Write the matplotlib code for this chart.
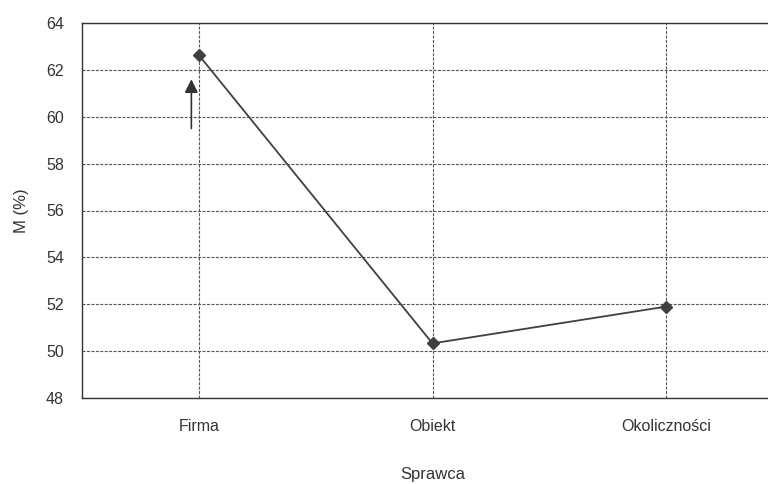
import matplotlib
matplotlib.use("Agg")
import matplotlib.pyplot as plt

categories = ["Firma", "Obiekt", "Okoliczności"]
values = [62.63, 50.33, 51.9]
y_ticks = [48, 50, 52, 54, 56, 58, 60, 62, 64]

plt.rcParams['font.family'] = ['Liberation Sans', 'DejaVu Sans']

fig = plt.figure(figsize=(7.68, 4.84), dpi=100)
W, H = 768, 484
left, right, top, bottom = 82, 783, 23, 398
ax = fig.add_axes([left / W, 1 - bottom / H, (right - left) / W, (bottom - top) / H])

x = list(range(len(categories)))
ax.plot(x, values, color="#404040", lw=1.3, marker="D", markersize=6,
        markerfacecolor="#404040", markeredgecolor="#404040", zorder=3)

ax.set_xlim(-0.5, 2.5)
ax.set_ylim(48, 64)
ax.set_yticks(y_ticks)
ax.set_xticks(x)
ax.set_xticklabels(categories)

ax.grid(True, linestyle=(0, (2.7, 1.3)), color="#555555", lw=0.8)
ax.set_axisbelow(True)
for s in ["top", "left", "bottom", "right"]:
    ax.spines[s].set_color("#333333")
    ax.spines[s].set_linewidth(1.0)

ax.tick_params(axis="both", length=0, labelsize=11.5, colors="#333333")
ax.tick_params(axis="y", pad=13)
ax.tick_params(axis="x", pad=15)

ax.set_xlabel("Sprawca", fontsize=12, color="#333333", labelpad=24)
ax.set_ylabel("M (%)", fontsize=12, color="#333333", labelpad=12)

ax.annotate("", xy=(-0.032, 61.6), xytext=(-0.032, 59.5),
            arrowprops=dict(arrowstyle="-|>", color="#333333", lw=1.2,
                            mutation_scale=20, shrinkA=0, shrinkB=0))

fig.savefig("out.png", dpi=100)
